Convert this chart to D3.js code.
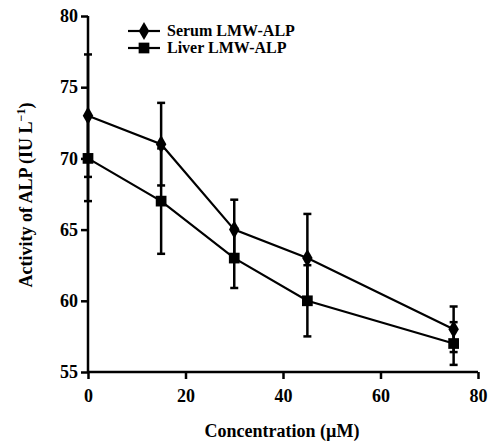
<!DOCTYPE html>
<html lang="en">
<head>
    <meta charset="UTF-8">
    <title>ALP activity</title>
    <style>
        body { margin: 0; background: white; }
        text { font-family: 'Liberation Serif', 'Times New Roman', serif; fill: black; }
    </style>
</head>
<body>
    <div class="fig"></div>
    <script src="https://d3js.org/d3.v7.min.js"></script>
    <script>
        // Data
        const concentrations = [0, 15, 30, 45, 75];
        const serumValues = [73, 71, 65, 63, 58];
        const serumErrors = [4.3, 2.9, 2.1, 3.1, 1.6];
        const liverValues = [70, 67, 63, 60, 57];
        const liverErrors = [3.0, 3.7, 2.1, 2.5, 1.5];
        const xTicks = [0, 20, 40, 60, 80];
        const yTicks = [55, 60, 65, 70, 75, 80];
        const seriesNames = ["Serum LMW-ALP", "Liver LMW-ALP"];

        const width = 489, height = 442;
        const margin = { left: 88, right: 11, top: 16, bottom: 70 };

        const svg = d3.select(".fig").append("svg")
            .attr("width", width)
            .attr("height", height);

        const x = d3.scaleLinear().domain([0, 80]).range([margin.left, width - margin.right]);
        const y = d3.scaleLinear().domain([55, 80]).range([height - margin.bottom, margin.top]);

        // Axes
        const xAxis = svg.append("g")
            .attr("transform", `translate(0,${y(55)})`)
            .call(d3.axisBottom(x).tickValues(xTicks).tickSize(7).tickPadding(10));
        const yAxis = svg.append("g")
            .attr("transform", `translate(${x(0)},0)`)
            .call(d3.axisLeft(y).tickValues(yTicks).tickSize(7).tickPadding(3));

        [xAxis, yAxis].forEach(g => {
            g.attr("font-family", "'Liberation Serif', serif");
            g.select(".domain").attr("stroke", "black").attr("stroke-width", 2.5)
                .attr("d", g === xAxis ? `M${x(0)},0H${x(80)}` : `M0,${y(55)}V${y(80)}`);
            g.selectAll(".tick line").attr("stroke", "black").attr("stroke-width", 2.5);
            g.selectAll(".tick text")
                .style("font-size", "18px")
                .style("font-weight", "bold")
                .attr("fill", "black");
        });

        const series = [
            { name: seriesNames[0], values: serumValues, errors: serumErrors, shape: d3.symbolDiamond, size: 95 },
            { name: seriesNames[1], values: liverValues, errors: liverErrors, shape: d3.symbolSquare, size: 115 }
        ];

        const line = d3.line().x(d => x(d[0])).y(d => y(d[1]));

        series.forEach(s => {
            const pts = concentrations.map((c, i) => [c, s.values[i], s.errors[i]]);
            const g = svg.append("g");

            // Error bars
            g.selectAll("line.err").data(pts).enter().append("line")
                .attr("x1", d => x(d[0])).attr("x2", d => x(d[0]))
                .attr("y1", d => y(d[1] - d[2])).attr("y2", d => y(d[1] + d[2]))
                .attr("stroke", "black").attr("stroke-width", 2.5);
            [-1, 1].forEach(sign => {
                g.selectAll(null).data(pts).enter().append("line")
                    .attr("x1", d => x(d[0]) - 4).attr("x2", d => x(d[0]) + 4)
                    .attr("y1", d => y(d[1] + sign * d[2])).attr("y2", d => y(d[1] + sign * d[2]))
                    .attr("stroke", "black").attr("stroke-width", 2.5);
            });

            g.append("path").datum(pts)
                .attr("d", line)
                .attr("fill", "none")
                .attr("stroke", "black")
                .attr("stroke-width", 2.2);

            g.selectAll("path.pt").data(pts).enter().append("path")
                .attr("transform", d => `translate(${x(d[0])},${y(d[1])})`)
                .attr("d", d3.symbol().type(s.shape).size(s.size))
                .attr("fill", "black");
        });

        // Legend
        const legend = svg.append("g");
        series.forEach((s, i) => {
            const ly = 31 + i * 17;
            legend.append("line")
                .attr("x1", 128).attr("x2", 160).attr("y1", ly).attr("y2", ly)
                .attr("stroke", "black").attr("stroke-width", 2.2);
            legend.append("path")
                .attr("transform", `translate(144,${ly})`)
                .attr("d", d3.symbol().type(s.shape).size(s.size))
                .attr("fill", "black");
            legend.append("text")
                .attr("x", 167).attr("y", ly + 5)
                .style("font-size", "16px")
                .style("font-weight", "bold")
                .text(s.name);
        });

        // Axis titles
        svg.append("text")
            .attr("x", (x(0) + x(80)) / 2 - 1)
            .attr("y", 437)
            .attr("text-anchor", "middle")
            .style("font-size", "18px")
            .style("font-weight", "bold")
            .text("Concentration (\u00b5M)");

        const yTitle = svg.append("text")
            .attr("transform", `translate(32,195) rotate(-90)`)
            .attr("text-anchor", "middle")
            .style("font-size", "18px")
            .style("font-weight", "bold");
        yTitle.append("tspan").text("Activity of ALP (IU L");
        yTitle.append("tspan").attr("dy", -7).style("font-size", "12px").text("\u22121");
        yTitle.append("tspan").attr("dy", 7).text(")");
    </script>
</body>
</html>
